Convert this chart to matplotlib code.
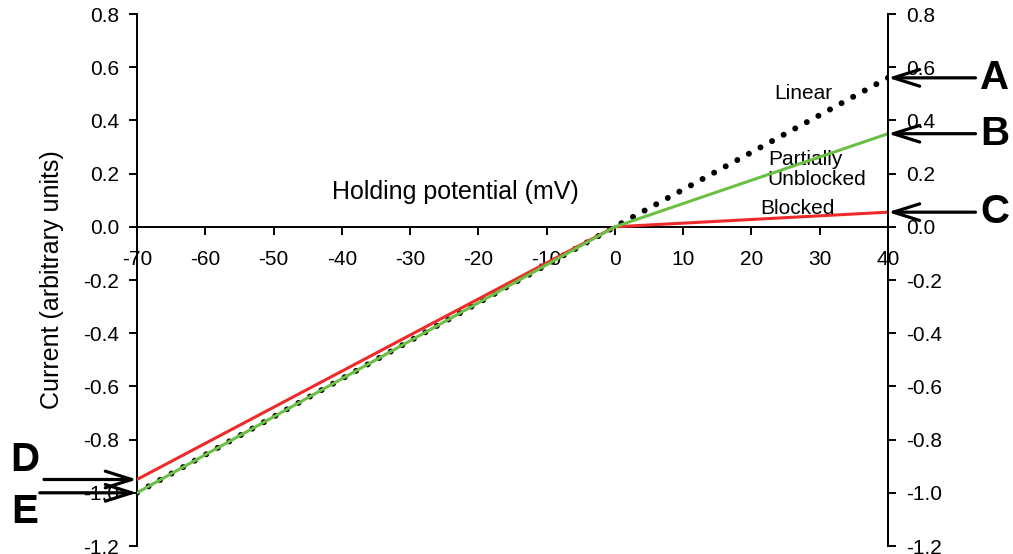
import numpy as np
import matplotlib.pyplot as plt

plt.rcParams['font.family'] = ['Liberation Sans', 'DejaVu Sans']
plt.rcParams['axes.unicode_minus'] = False

# holding potential (mV) and currents (arbitrary units)
volts = [-70, 0, 40]
linear = [-1.0, 0.0, 0.56]
partial = [-1.0, 0.0, 0.35]
blocked = [-0.95, 0.0, 0.055]

xticks = [-70, -60, -50, -40, -30, -20, -10, 0, 10, 20, 30, 40]
yticks = [-1.2, -1.0, -0.8, -0.6, -0.4, -0.2, 0.0, 0.2, 0.4, 0.6, 0.8]

fig = plt.figure(figsize=(10.13, 5.54), dpi=100)
ax = fig.add_axes([137/1013, 8/554, (888-137)/1013, (546-14)/554])

ax.plot(volts, linear, color='black', lw=4.3, linestyle=(0, (0.01, 2.2)),
        dash_capstyle='round', zorder=2)
ax.plot(volts, blocked, color='#ee2a2a', lw=2.2, zorder=3)
ax.plot(volts, partial, color='#6cbf45', lw=2.2, zorder=4)

ax.set_xlim(-70, 40)
ax.set_ylim(-1.2, 0.8)
ax.spines['top'].set_visible(False)
ax.spines['bottom'].set_position(('data', 0))
for s in ['left', 'right', 'bottom']:
    ax.spines[s].set_linewidth(1.4)
ax.set_xticks(xticks)
ax.set_xticklabels([str(t) for t in xticks])
ax.set_yticks(yticks)
ax.set_yticklabels(['%.1f' % t for t in yticks])
ax.tick_params(labelsize=15, width=1.4, length=6, direction='out')
ax.tick_params(axis='x', pad=11)
ax.tick_params(axis='y', pad=7)
ax.set_ylabel('Current (arbitrary units)', fontsize=18, labelpad=14)

ax2 = ax.twinx()
ax2.set_ylim(-1.2, 0.8)
ax2.set_yticks(yticks)
ax2.set_yticklabels(['%.1f' % t for t in yticks])
ax2.tick_params(labelsize=15, width=1.4, length=6, pad=7, direction='out')
for s in ['top', 'left', 'bottom']:
    ax2.spines[s].set_visible(False)
ax2.spines['right'].set_linewidth(1.4)

ax.text(-23.4, 0.13, 'Holding potential (mV)', fontsize=18, ha='center', va='center')
ax.text(27.6, 0.5, 'Linear', fontsize=15, ha='center', va='center')
ax.text(22.4, 0.215, 'Partially\nUnblocked', fontsize=15, ha='left', va='center',
        linespacing=1.05)
ax.text(21.3, 0.07, 'Blocked', fontsize=15, ha='left', va='center')

arrow = dict(arrowstyle='->,head_length=1.9,head_width=0.6', lw=2.3, color='black',
             shrinkA=0, shrinkB=0)
right_marks = [('A', linear[-1]), ('B', partial[-1]), ('C', blocked[-1])]
for lab, yv in right_marks:
    ax2.annotate('', xy=(40, yv), xytext=(63, 0), textcoords='offset points',
                 arrowprops=arrow, annotation_clip=False)
    ax2.annotate(lab, xy=(40, yv), xytext=(77, 0), textcoords='offset points',
                 fontsize=29, fontweight='bold', ha='center', va='center',
                 annotation_clip=False)

ax.annotate('', xy=(-70, blocked[0]), xytext=(-67, 0), textcoords='offset points',
            arrowprops=arrow, annotation_clip=False)
ax.annotate('', xy=(-70, partial[0]), xytext=(-70, 0), textcoords='offset points',
            arrowprops=arrow, annotation_clip=False)
ax.annotate('D', xy=(-70, blocked[0]), xytext=(-81, 14), textcoords='offset points',
            fontsize=29, fontweight='bold', ha='center', va='center',
            annotation_clip=False)
ax.annotate('E', xy=(-70, partial[0]), xytext=(-81, -14), textcoords='offset points',
            fontsize=29, fontweight='bold', ha='center', va='center',
            annotation_clip=False)

fig.savefig('out.png', dpi=100)
